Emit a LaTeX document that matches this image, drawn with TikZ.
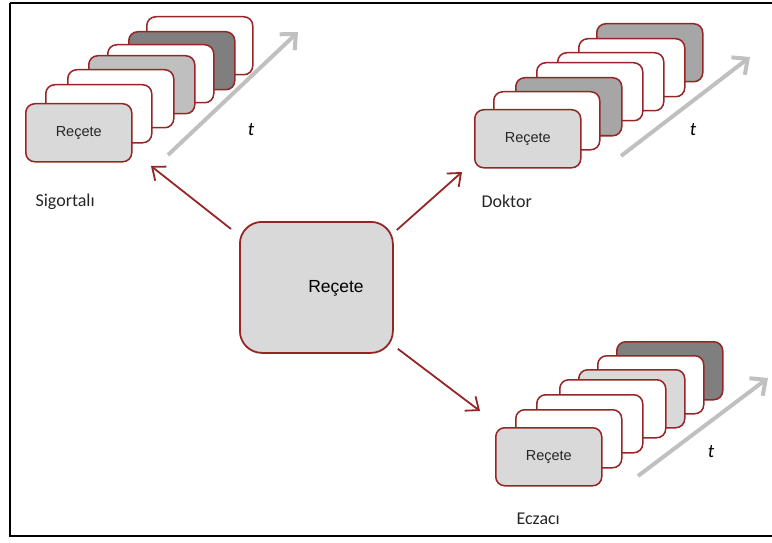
\documentclass[tikz,border=0pt]{standalone}
\usepackage{fontspec}
\setmainfont{Carlito}
\newfontfamily\arialf{Liberation Sans}
\usetikzlibrary{arrows.meta,calc}

\definecolor{cardred}{RGB}{150,38,38}
\definecolor{frontgray}{RGB}{217,217,217}
\definecolor{midgray}{RGB}{191,191,191}
\definecolor{medgray}{RGB}{166,166,166}
\definecolor{darkgray}{RGB}{127,127,127}
\definecolor{timegray}{RGB}{192,192,192}
\definecolor{textdark}{RGB}{38,38,38}

\tikzset{
  card/.style={draw=cardred, line width=1.5pt, rounded corners=9pt,
    minimum width=106pt, minimum height=58pt, anchor=north west,
    inner sep=0pt, font=\arialf\fontsize{14.5}{16}\selectfont, text=textdark},
  hub/.style={draw=cardred, line width=1.8pt, rounded corners=22pt,
    fill=frontgray, minimum width=153pt, minimum height=131pt,
    inner sep=0pt},
  timearrow/.style={draw=timegray, line width=4pt,
    -{Straight Barb[length=12pt,width=22pt]}},
  flow/.style={draw=cardred, line width=1.8pt,
    -{Straight Barb[length=11pt,width=18pt]}},
  role/.style={anchor=west, font=\fontsize{18}{20}\selectfont, text=textdark},
  tlabel/.style={font=\itshape\fontsize{19}{21}\selectfont},
}

\begin{document}
\begin{tikzpicture}[x=1pt,y=-1pt]
\useasboundingbox (0,0) rectangle (772,543);
% outer frame (its right side runs past the page edge)
\draw[line width=1.8pt] (10,3) -- (790,3) (10,3) -- (10,536) -- (790,536);

% ---- Sigortali stack, back to front
\node[card, fill=white]      (s7) at (146,16) {};
\node[card, fill=darkgray]   (s6) at (128,31) {};
\node[card, fill=white]      (s5) at (107,44) {};
\node[card, fill=midgray]    (s4) at (88,55) {};
\node[card, fill=white]      (s3) at (67,69) {};
\node[card, fill=white]      (s2) at (45,84) {};
\node[card, fill=frontgray]  (s1) at (25,103) {Reçete};
\coordinate (st0) at (168,155);
\coordinate (st1) at (298,32);
\draw[timearrow] (st0) -- (st1);
\node[tlabel] (st) at (251,130) {t};
\node[role] (sig) at (32,202) {Sigortalı};

% ---- Doktor stack
\node[card, fill=medgray]    (d7) at (596,23) {};
\node[card, fill=white]      (d6) at (578,38) {};
\node[card, fill=white]      (d5) at (557,52) {};
\node[card, fill=white]      (d4) at (536,62) {};
\node[card, fill=medgray]    (d3) at (515,77) {};
\node[card, fill=white]      (d2) at (493,91) {};
\node[card, fill=frontgray]  (d1) at (474,109) {Reçete};
\coordinate (dt0) at (621,156);
\coordinate (dt1) at (750,57);
\draw[timearrow] (dt0) -- (dt1);
\node[tlabel] (dt) at (693,130) {t};
\node[role] (dok) at (478,201) {Doktor};

% ---- Eczaci stack
\node[card, fill=darkgray]   (e7) at (616,341) {};
\node[card, fill=white]      (e6) at (597,355) {};
\node[card, fill=frontgray]  (e5) at (578,369) {};
\node[card, fill=white]      (e4) at (559,379) {};
\node[card, fill=white]      (e3) at (536,394) {};
\node[card, fill=white]      (e2) at (515,409) {};
\node[card, fill=frontgray]  (e1) at (495,427) {Reçete};
\coordinate (et0) at (638,476);
\coordinate (et1) at (768,378);
\draw[timearrow] (et0) -- (et1);
\node[tlabel] (et) at (711,452) {t};
\node[role] (ecz) at (513,519) {Eczacı};

% ---- central prescription and its three flows
\node[hub, anchor=north west] (hub) at (239,221) {};
\node[font=\arialf\fontsize{17.5}{19}\selectfont] (hubtxt) at (336,288) {Reçete};
\coordinate (fs) at ($(hub.north west)+(-8,8)$);
\coordinate (fd) at ($(hub.north east)+(3,9)$);
\coordinate (fe) at ($(hub.south east)+(4,-5)$);
\coordinate (ts) at (151,166);
\coordinate (td) at (462,172);
\coordinate (te) at (480,411);
\draw[flow] (fs) -- (ts);
\draw[flow] (fd) -- (td);
\draw[flow] (fe) -- (te);
\end{tikzpicture}
\end{document}
